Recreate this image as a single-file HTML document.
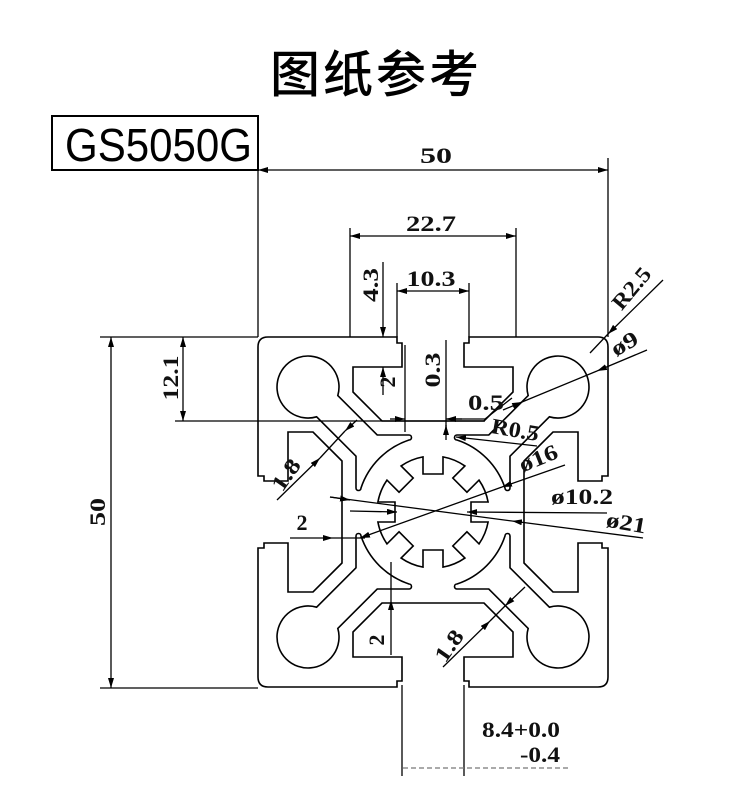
<!DOCTYPE html>
<html><head><meta charset="utf-8"><style>
html,body{margin:0;padding:0;background:#fff;width:750px;height:800px;overflow:hidden}
svg{display:block}
.d{font-family:"Liberation Serif",serif;font-weight:bold;font-size:22px;fill:#111}
</style></head><body>
<svg width="750" height="800" viewBox="0 0 750 800" xmlns="http://www.w3.org/2000/svg">
<defs>
<marker id="a" viewBox="0 0 10 6" refX="10" refY="3" markerWidth="10" markerHeight="6" markerUnits="userSpaceOnUse" orient="auto-start-reverse"><path d="M0,0 L10,3 L0,6 Z" fill="#000"/></marker>
<g id="q">
<path d="M0,-91 H-51 L-80,-120 V-145 H-31 V-169 H-36 V-175 H-165 Q-175,-175 -175,-165 V-36 H-169 V-31 H-145 V-80 H-120 L-91,-51 V0"/>
<path d="M-95.2,-116.4 L-55.8,-77 H-24 A2.5,2.5 0 0 1 -24,-72 A76,76 0 0 0 -72,-24 A2.5,2.5 0 0 1 -77,-24 V-55.8 L-116.4,-95.2 A31,31 0 1 1 -95.2,-116.4 Z"/>
</g>
</defs>
<text x="376" y="92" text-anchor="middle" font-family="'Liberation Sans','Noto Sans CJK SC',sans-serif" font-size="50" font-weight="500" letter-spacing="3" fill="#000">图纸参考</text>
<rect x="52" y="116" width="206" height="54" fill="none" stroke="#000" stroke-width="2"/>
<text x="65" y="161" font-family="'Liberation Sans',sans-serif" font-size="46" textLength="187" lengthAdjust="spacingAndGlyphs" fill="#000">GS5050G</text>

<g fill="none" stroke="#000" stroke-width="1.6">
<g transform="translate(433,512)">
<use href="#q"/>
<use href="#q" transform="scale(-1,1)"/>
<use href="#q" transform="scale(1,-1)"/>
<use href="#q" transform="scale(-1,-1)"/>
<path d="M-10,-55.1 L-10,-38 L10,-38 L10,-55.1 A56,56 0 0 1 31.89,-46.03 L19.8,-33.94 L33.94,-19.8 L46.03,-31.89 A56,56 0 0 1 55.1,-10 L38,-10 L38,10 L55.1,10 A56,56 0 0 1 46.03,31.89 L33.94,19.8 L19.8,33.94 L31.89,46.03 A56,56 0 0 1 10,55.1 L10,38 L-10,38 L-10,55.1 A56,56 0 0 1 -31.89,46.03 L-19.8,33.94 L-33.94,19.8 L-46.03,31.89 A56,56 0 0 1 -55.1,10 L-38,10 L-38,-10 L-55.1,-10 A56,56 0 0 1 -46.03,-31.89 L-33.94,-19.8 L-19.8,-33.94 L-31.89,-46.03 A56,56 0 0 1 -10,-55.1 Z"/>
</g>
</g>

<g fill="none" stroke="#000" stroke-width="1.3">
<path d="M258,160 V337 M608,158 V337 M350,228 V337 M516,228 V337 M397,283 V337 M469,283 V337 M100,337 H258 M175,421 H485 M100,688 H258 M402,685 V776 M464,685 V776 M405,345 V432 M446,340 V432"/>
<line x1="258" y1="170" x2="608" y2="170" marker-start="url(#a)" marker-end="url(#a)"/>
<line x1="350" y1="236" x2="516" y2="236" marker-start="url(#a)" marker-end="url(#a)"/>
<line x1="397" y1="291" x2="469" y2="291" marker-start="url(#a)" marker-end="url(#a)"/>
<line x1="383" y1="262" x2="383" y2="337" marker-end="url(#a)"/>
<line x1="383" y1="395" x2="383" y2="367" marker-end="url(#a)"/>
<line x1="183" y1="337" x2="183" y2="421" marker-start="url(#a)" marker-end="url(#a)"/>
<line x1="111" y1="337" x2="111" y2="688" marker-start="url(#a)" marker-end="url(#a)"/>
<line x1="390" y1="419" x2="405" y2="419" marker-end="url(#a)"/>
<line x1="462" y1="419" x2="446" y2="419" marker-end="url(#a)"/>
<line x1="446" y1="440" x2="446" y2="425" marker-end="url(#a)"/>
<line x1="663" y1="280" x2="608" y2="334" marker-end="url(#a)"/>
<line x1="608" y1="334" x2="590" y2="353"/>
<line x1="647" y1="350" x2="597" y2="371" marker-end="url(#a)"/>
<line x1="597" y1="371" x2="522" y2="402"/>
<line x1="503" y1="410" x2="522" y2="402" marker-end="url(#a)"/>
<polyline points="447,419 485,419 512,398"/>
<line x1="537" y1="446" x2="456" y2="437" marker-end="url(#a)"/>
<line x1="565" y1="465" x2="502" y2="487" marker-end="url(#a)"/>
<line x1="502" y1="487" x2="360" y2="538" marker-end="url(#a)"/>
<line x1="607" y1="513" x2="467" y2="512" marker-end="url(#a)"/>
<line x1="350" y1="511" x2="397" y2="512" marker-end="url(#a)"/>
<line x1="643" y1="538" x2="512" y2="521" marker-end="url(#a)"/>
<line x1="512" y1="521" x2="330" y2="497"/>
<line x1="330" y1="497" x2="350" y2="500" marker-end="url(#a)"/>
<line x1="277" y1="500" x2="320" y2="458" marker-end="url(#a)"/>
<line x1="357" y1="420" x2="345" y2="431" marker-end="url(#a)"/>
<line x1="320" y1="458" x2="345" y2="431"/>
<line x1="290" y1="538" x2="333" y2="538" marker-end="url(#a)"/>
<line x1="333" y1="538" x2="365" y2="538"/>
<line x1="391" y1="655" x2="391" y2="600" marker-end="url(#a)"/>
<line x1="391" y1="600" x2="391" y2="562"/>
<line x1="443" y1="667" x2="490" y2="621" marker-end="url(#a)"/>
<line x1="525" y1="587" x2="505" y2="606" marker-end="url(#a)"/>
<line x1="490" y1="621" x2="505" y2="606"/>
<line x1="403" y1="768" x2="568" y2="768" stroke="#777" stroke-dasharray="5,3" stroke-width="1.2"/>
</g>

<g class="d">
<text x="436" y="163" text-anchor="middle" textLength="32" lengthAdjust="spacingAndGlyphs">50</text>
<text x="431" y="231" text-anchor="middle" textLength="50" lengthAdjust="spacingAndGlyphs">22.7</text>
<text x="431" y="286" text-anchor="middle" textLength="49" lengthAdjust="spacingAndGlyphs">10.3</text>
<text transform="translate(378,285) rotate(-90)" text-anchor="middle" textLength="34" lengthAdjust="spacingAndGlyphs">4.3</text>
<text transform="translate(178,378) rotate(-90)" text-anchor="middle" textLength="45" lengthAdjust="spacingAndGlyphs">12.1</text>
<text transform="translate(105,512) rotate(-90)" text-anchor="middle" textLength="28" lengthAdjust="spacingAndGlyphs">50</text>
<text transform="translate(395,382) rotate(-90)" text-anchor="middle">2</text>
<text transform="translate(440,370) rotate(-90)" text-anchor="middle" textLength="35" lengthAdjust="spacingAndGlyphs">0.3</text>
<text x="486" y="410" text-anchor="middle" textLength="36" lengthAdjust="spacingAndGlyphs">0.5</text>
<text transform="translate(514,437) rotate(10)" text-anchor="middle" textLength="48" lengthAdjust="spacingAndGlyphs">R0.5</text>
<text transform="translate(541,465) rotate(-22)" text-anchor="middle" textLength="40" lengthAdjust="spacingAndGlyphs">ø16</text>
<text x="582" y="504" text-anchor="middle" textLength="62" lengthAdjust="spacingAndGlyphs">ø10.2</text>
<text transform="translate(625,530) rotate(10)" text-anchor="middle" textLength="40" lengthAdjust="spacingAndGlyphs">ø21</text>
<text transform="translate(637,293) rotate(-50)" text-anchor="middle" textLength="48" lengthAdjust="spacingAndGlyphs">R2.5</text>
<text transform="translate(628,350) rotate(-30)" text-anchor="middle" textLength="28" lengthAdjust="spacingAndGlyphs">ø9</text>
<text transform="translate(292,479) rotate(-55)" text-anchor="middle" textLength="34" lengthAdjust="spacingAndGlyphs">1.8</text>
<text x="302" y="530" text-anchor="middle">2</text>
<text transform="translate(384,640) rotate(-90)" text-anchor="middle">2</text>
<text transform="translate(455,650) rotate(-55)" text-anchor="middle" textLength="34" lengthAdjust="spacingAndGlyphs">1.8</text>
<text x="482" y="737" textLength="78" lengthAdjust="spacingAndGlyphs">8.4+0.0</text>
<text x="520" y="762" textLength="40" lengthAdjust="spacingAndGlyphs">-0.4</text>
</g>
</svg>
</body></html>
